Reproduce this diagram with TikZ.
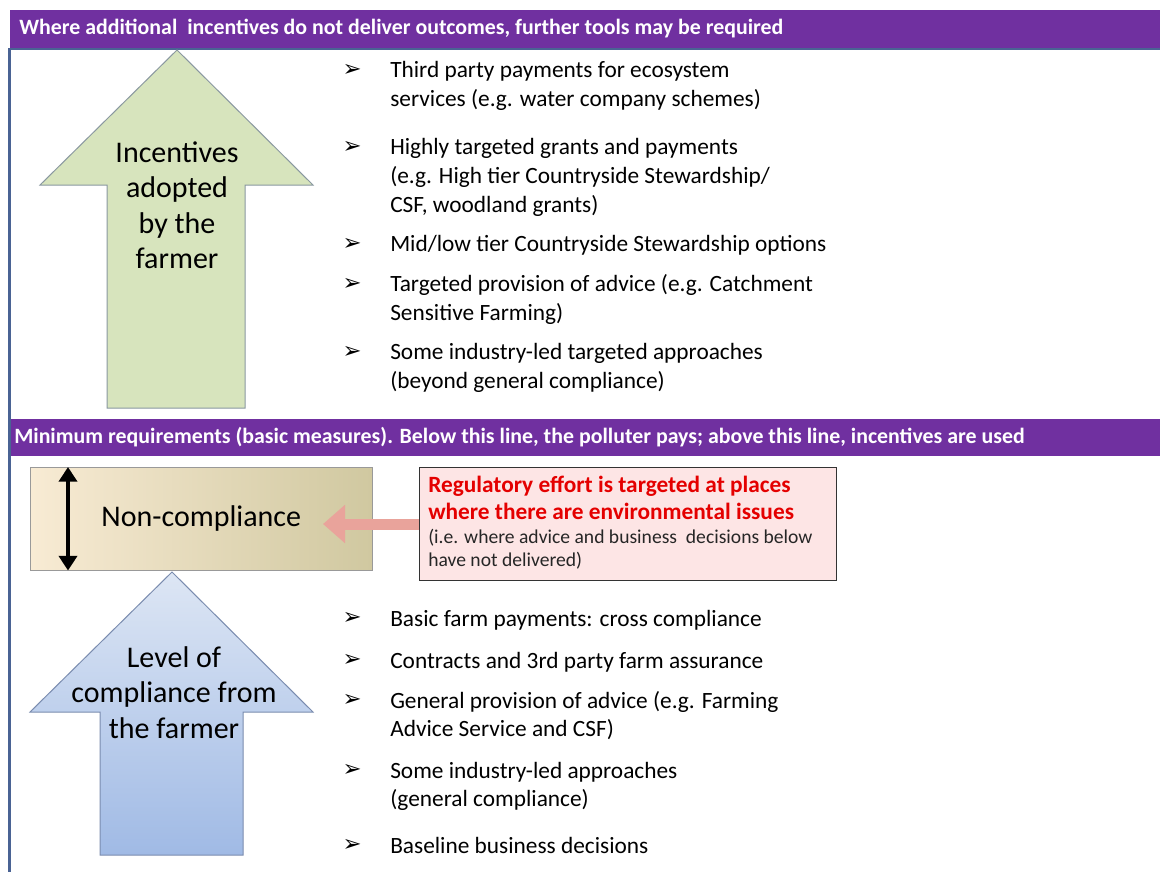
\documentclass[tikz,border=0pt]{standalone}
\usepackage{fontspec}
\setmainfont{Carlito}
\newfontfamily\symfont{DejaVu Sans}
\usetikzlibrary{arrows.meta}
\definecolor{barpurple}{RGB}{112,48,160}
\definecolor{frameblue}{RGB}{74,99,148}
\definecolor{incgreen}{RGB}{215,228,189}
\definecolor{incedge}{RGB}{138,152,160}
\definecolor{levtop}{RGB}{221,230,244}
\definecolor{levbot}{RGB}{160,186,229}
\definecolor{levedge}{RGB}{122,140,175}
\definecolor{nclight}{RGB}{248,235,212}
\definecolor{ncdark}{RGB}{208,200,160}
\definecolor{regpink}{RGB}{253,229,229}
\definecolor{regred}{RGB}{228,0,0}
\definecolor{effort}{RGB}{233,163,155}
\newcommand{\itemsym}{{\symfont\bfseries\fontsize{17}{17}\selectfont ➢}}

\begin{document}
\begin{tikzpicture}[x=0.75pt,y=-0.75pt,
    bartext/.style={anchor=west,inner sep=0pt,text=white,font=\bfseries\fontsize{16.4}{19}\selectfont},
    frame/.style={draw=frameblue},
    arrowtext/.style={anchor=north,inner sep=0pt,align=center,font=\fontsize{22.5}{26.6}\selectfont},
    itemtext/.style={anchor=north west,inner sep=0pt,align=left,font=\fontsize{17.5}{21.4}\selectfont},
    itembullet/.style={inner sep=0pt}]
    \fill[white] (0,0) rectangle (1160,872);
    \useasboundingbox (0,0) rectangle (1160,872);
    % bars and frame
    \fill[barpurple] (10,10) rectangle (1160,48);
    \node[bartext] (bartop) at (19,29) {Where additional \ incentives do not deliver outcomes, further tools may be required};
    \fill[barpurple] (10,419) rectangle (1160,456);
    \node[bartext] (barmid) at (14,437.5) {Minimum requirements (basic measures). Below this line, the polluter pays; above this line, incentives are used};
    \draw[frame,line width=1.5pt] (8,49) -- (1160,49);
    \draw[frame,line width=2.25pt] (9,48) -- (9,872);
    % block arrows
    \filldraw[fill=incgreen,draw=incedge,line width=0.75pt] (177,50) -- (313,185) -- (245,185) -- (245,408) -- (107,408) -- (107,185) -- (40,185) -- cycle;
    \path[top color=levtop,bottom color=levbot,draw=levedge,line width=0.75pt] (172,572) -- (313,712) -- (243,712) -- (243,855) -- (100,855) -- (100,712) -- (30,712) -- cycle;
    \node[arrowtext] (inctext) at (177,137) {\strut Incentives\\adopted\\by the\\farmer};
    \node[arrowtext] (levtext) at (174,642) {\strut Level of\\compliance from\\the farmer};
    % non-compliance and regulatory effort
    \node[anchor=north west,minimum width=256.5pt,minimum height=77.25pt,draw=gray!80,left color=nclight,right color=ncdark,
        font=\fontsize{22.5}{26.6}\selectfont] (noncomp) at (30,467) {Non-compliance};
    \draw[line width=3pt,{Triangle[length=11pt,width=13.5pt]}-{Triangle[length=11pt,width=13.5pt]}]
        ([xshift=28.5pt]noncomp.north west) -- ([xshift=28.5pt]noncomp.south west);
    \node[anchor=north west,minimum width=312.75pt,minimum height=84.75pt,draw=black!80,fill=regpink] (regbox) at (419,467) {};
    \coordinate (nctip) at (323,524);
    \draw[effort,line width=8.25pt,-{Triangle[length=16.5pt,width=27.75pt]}] (regbox.west |- nctip) -- (nctip);
    \node[anchor=north west,inner sep=0pt,align=left,text=regred,font=\bfseries\fontsize{17.5}{20.25}\selectfont] (reghead) at (428,473)
        {\strut Regulatory effort is targeted at places\\where there are environmental issues};
    \node[anchor=north west,inner sep=0pt,align=left,text=black!85,font=\fontsize{14.7}{17.25}\selectfont] (regnote) at (428,527)
        {\strut(i.e. where advice and business \ decisions below\\have not delivered)};
    % lists
    \foreach \y/\txt [count=\i] in {70/{Third party payments for ecosystem\\services (e.g. water company schemes)},
        147/{Highly targeted grants and payments\\(e.g. High tier Countryside Stewardship/\\CSF, woodland grants)},
        244/{Mid/low tier Countryside Stewardship options},
        284/{Targeted provision of advice (e.g. Catchment\\Sensitive Farming)},
        352/{Some industry-led targeted approaches\\(beyond general compliance)}} {
        \node[itembullet] (tb\i) at (352,\y) {\itemsym};
        \node[itemtext] (ti\i) at (390,\y-12.25) {\strut\txt};
    }
    \foreach \y/\txt [count=\i] in {618/{Basic farm payments: cross compliance},
        660/{Contracts and 3rd party farm assurance},
        700/{General provision of advice (e.g. Farming\\Advice Service and CSF)},
        770/{Some industry-led approaches\\(general compliance)},
        845/{Baseline business decisions}} {
        \node[itembullet] (bb\i) at (352,\y) {\itemsym};
        \node[itemtext] (bi\i) at (390,\y-12.25) {\strut\txt};
    }
\end{tikzpicture}
\end{document}
